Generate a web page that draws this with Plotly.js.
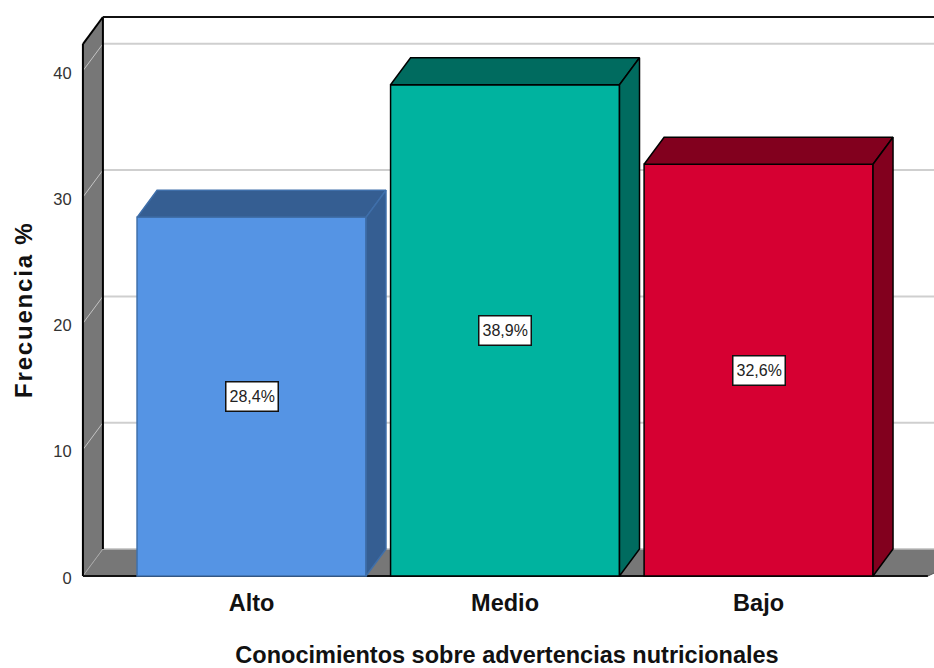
<!DOCTYPE html>
<html><head><meta charset="utf-8">
<script src="https://cdn.plot.ly/plotly-3.0.1.min.js"></script>
<style>html,body{margin:0;padding:0;background:#fff}
.annotation[data-index="3"] text{letter-spacing:1.8px}</style></head>
<body><div id="chart" style="width:934px;height:668px"></div>
<script>
const categories = ["Alto","Medio","Bajo"];
const values = [28.4,38.9,32.6];
const valueLabels = ["28,4%","38,9%","32,6%"];
const frontColors = ["#5594E4","#00B39F","#D60032"];
const topColors = ["#355E92","#006B5F","#82001E"];
const edgeColors = ["#3F6FAA","#000000","#000000"];
const yTicks = [0,10,20,30,40];
const xPos = [0,1,2];

const barWidth = 0.903, dx = 0.0789, dy = 2.14;
const xMin = -0.6765, xMax = 2.692, yMin = -0.396, yMax = 44.5;
const wallLeft = -0.665, wallTop = 44.26;
const font = "Liberation Sans, Arial, sans-serif";
const path = pts => "M" + pts.map(p => p[0] + "," + p[1]).join("L") + "Z";
const line = (x0,y0,x1,y1,color,width) => ({type:"line",xref:"x",yref:"y",x0,y0,x1,y1,layer:"below",line:{color,width}});

const shapes = [];
yTicks.slice(1).forEach(t => shapes.push(line(wallLeft+dx,t+dy,xMax+1,t+dy,"#cfcfcf",2)));
shapes.push({type:"path",xref:"x",yref:"y",layer:"below",fillcolor:"#777777",line:{width:0},
  path:path([[wallLeft,0],[wallLeft+dx,dy],[wallLeft+dx,wallTop],[wallLeft,wallTop-dy]])});
shapes.push({type:"path",xref:"x",yref:"y",layer:"below",fillcolor:"#777777",line:{width:0},
  path:path([[wallLeft,0],[wallLeft+dx,dy],[xMax+0.2,dy],[xMax-0.024,0]])});
shapes.push(line(wallLeft+dx,dy,xMax+1,dy,"#bdbdbd",1.5));
yTicks.slice(1).forEach(t => shapes.push(line(wallLeft,t,wallLeft+dx,t+dy,"#c4c4c4",1)));
shapes.push(line(wallLeft,0,wallLeft+dx,dy,"#a8a8a8",1));
shapes.push(line(wallLeft,0,wallLeft,wallTop-dy,"#000",2));
shapes.push(line(wallLeft,wallTop-dy,wallLeft+dx,wallTop,"#000",2));
shapes.push(line(wallLeft+dx,dy,wallLeft+dx,wallTop,"#000",2));
shapes.push(line(wallLeft+dx,wallTop,xMax+1,wallTop,"#111",2));
shapes.push(line(wallLeft,0,xMax-0.024,0,"#111",2));
shapes.push(line(xMax-0.024,0,xMax+0.2,dy,"#555",1));

const traces = [];
xPos.forEach((x,i) => {
  const l = x-barWidth/2, r = x+barWidth/2, v = values[i];
  const edge = edgeColors[i];
  traces.push({type:"scatter",mode:"lines",fill:"toself",fillcolor:topColors[i],hoverinfo:"skip",
    line:{color:edge,width:1.5},x:[l,l+dx,r+dx,r,l],y:[v,v+dy,v+dy,v,v]});
  traces.push({type:"scatter",mode:"lines",fill:"toself",fillcolor:topColors[i],hoverinfo:"skip",
    line:{color:edge,width:1.5},x:[r,r+dx,r+dx,r,r],y:[v,v+dy,dy,0,v]});
});
traces.unshift({type:"bar",x:xPos,y:values,width:barWidth,
  marker:{color:frontColors,line:{color:edgeColors,width:1.5}},hoverinfo:"skip"});

const annotations = xPos.map((x,i) => ({xref:"x",yref:"y",x,y:values[i]/2,text:valueLabels[i],showarrow:false,
  font:{family:font,size:16,color:"#222"},height:22,
  bgcolor:"#fff",bordercolor:"#111",borderwidth:1.5,borderpad:3}));
annotations.push({xref:"paper",yref:"paper",x:-0.0654,y:0.478,xanchor:"center",yanchor:"middle",textangle:-90,showarrow:false,
  text:"Frecuencia %",font:{family:font,size:24,color:"#111",weight:"bold"}});

Plotly.newPlot("chart",traces,{
  width:934,height:668,showlegend:false,paper_bgcolor:"#fff",plot_bgcolor:"#fff",
  margin:{l:80,r:0,t:14,b:87,pad:0},
  xaxis:{range:[xMin,xMax],tickmode:"array",tickvals:xPos,ticktext:categories,showgrid:false,zeroline:false,showline:false,ticks:"outside",ticklen:1,tickcolor:"rgba(0,0,0,0)",
    tickfont:{family:font,size:23.5,color:"#111",weight:"bold"},
    title:{text:"Conocimientos sobre advertencias nutricionales",standoff:45,font:{family:font,size:23.5,color:"#111",weight:"bold"}}},
  yaxis:{range:[yMin,yMax],tickmode:"array",tickvals:yTicks,ticktext:yTicks.map(String),showgrid:false,zeroline:false,showline:false,ticks:"outside",ticklen:4,tickcolor:"rgba(0,0,0,0)",ticklabelshift:2,
    tickfont:{family:font,size:16.5,color:"#333"}},
  shapes,annotations
},{staticPlot:true,displayModeBar:false});
</script></body></html>
